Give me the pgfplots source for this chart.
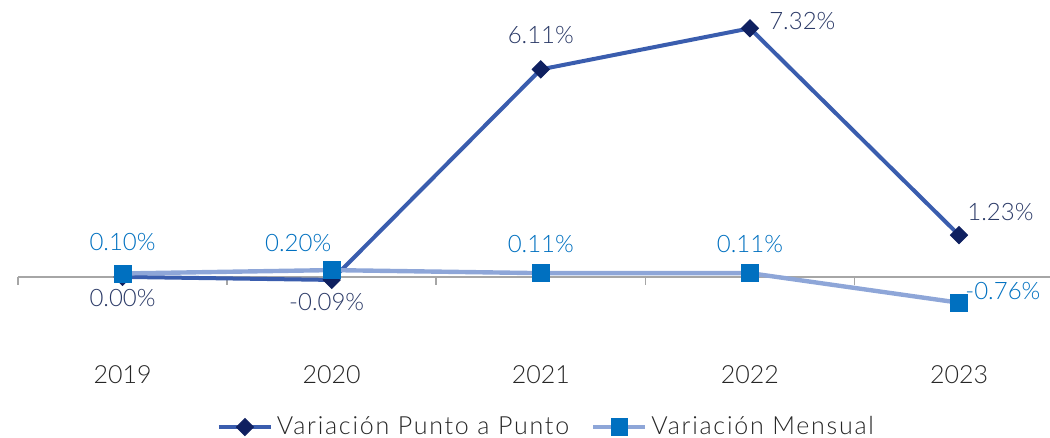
\documentclass[border=0pt]{standalone}
\usepackage{fontspec}
\setmainfont{Lato Light}
\newfontfamily\legfont{Lato Light}[LetterSpace=7]
\usepackage{pgfplots}
\pgfplotsset{compat=1.18}
\definecolor{lineA}{HTML}{3A5DAE}
\definecolor{markA}{HTML}{0F2060}
\definecolor{labA}{HTML}{2B3A67}
\definecolor{lineB}{HTML}{8EA6D8}
\definecolor{markB}{HTML}{0070C0}
\definecolor{axisgray}{HTML}{A6A6A6}
\definecolor{txt}{HTML}{262626}
\tikzset{
  lblA/.style={text=labA, font=\fontsize{12}{14}\selectfont, inner sep=0pt},
  lblB/.style={text=markB, font=\fontsize{12}{14}\selectfont, inner sep=0pt},
}
\begin{document}
\begin{tikzpicture}
\useasboundingbox (0,0) rectangle (525pt,219pt);
\begin{axis}[
  at={(9pt,41.5pt)}, anchor=south west,
  scale only axis, width=516pt, height=171.5pt,
  xmin=-0.5, xmax=4.435, ymin=-2.3, ymax=7.8,
  clip=false,
  axis x line*=bottom, axis y line=none,
  x axis line style={draw=none},
  major tick length=0pt,
  xtick={0,1,2,3,4},
  xticklabels={2019,2020,2021,2022,2023},
  xticklabel style={font=\fontsize{12.5}{14}\selectfont, text=txt, yshift=-2pt},
  legend style={at={(0.513,-0.21)}, anchor=center, draw=none, fill=none,
    legend columns=2, font=\legfont\fontsize{12.5}{15}\selectfont, text=txt,
    /tikz/every even column/.append style={column sep=9pt}},
  legend image code/.code={\draw[mark repeat=2,mark phase=2] plot coordinates {(0pt,0pt) (13pt,0pt) (26pt,0pt)};},
]
\draw[axisgray, line width=0.75pt] (axis cs:-0.5,0) -- (axis cs:4.435,0);
\draw[axisgray, line width=0.75pt] (axis cs:-0.5,0) -- ++(0pt,-4pt);
\draw[axisgray, line width=0.75pt] (axis cs:0.5,0) -- ++(0pt,-4pt);
\draw[axisgray, line width=0.75pt] (axis cs:1.5,0) -- ++(0pt,-4pt);
\draw[axisgray, line width=0.75pt] (axis cs:2.5,0) -- ++(0pt,-4pt);
\draw[axisgray, line width=0.75pt] (axis cs:3.5,0) -- ++(0pt,-4pt);

\addplot[lineA, line width=2pt, mark=square*, mark size=3pt,
  mark options={solid, rotate=45, fill=markA, draw=markA, line width=0.5pt}]
  coordinates {(0,0) (1,-0.09) (2,6.11) (3,7.32) (4,1.23)};
\addlegendentry{Variación Punto a Punto}
\addplot[lineB, line width=2.2pt, mark=square*, mark size=4.2pt,
  mark options={solid, fill=markB, draw=markB, line width=0.3pt}]
  coordinates {(0,0.10) (1,0.20) (2,0.11) (3,0.11) (4,-0.76)};
\addlegendentry{Variación Mensual}

\node[lblA, yshift=-10.5pt] at (axis cs:0,0) {0.00\%};
\node[lblA, xshift=-2.5pt, yshift=-11pt] at (axis cs:1,-0.09) {-0.09\%};
\node[lblA, yshift=17pt] at (axis cs:2,6.11) {6.11\%};
\node[lblA, anchor=west, xshift=9.5pt, yshift=3.5pt] at (axis cs:3,7.32) {7.32\%};
\node[lblA, anchor=west, xshift=4pt, yshift=11.5pt] at (axis cs:4,1.23) {1.23\%};

\node[lblB, yshift=15.5pt] at (axis cs:0,0.10) {0.10\%};
\node[lblB, anchor=east, xshift=0pt, yshift=13.5pt] at (axis cs:1,0.20) {0.20\%};
\node[lblB, yshift=14.5pt] at (axis cs:2,0.11) {0.11\%};
\node[lblB, yshift=14.5pt] at (axis cs:3,0.11) {0.11\%};
\node[lblB, anchor=west, xshift=3pt, yshift=6pt] at (axis cs:4,-0.76) {-0.76\%};
\end{axis}
\end{tikzpicture}
\end{document}
